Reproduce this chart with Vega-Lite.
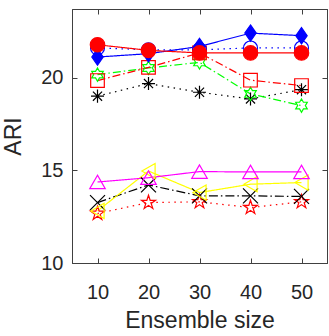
{
  "$schema": "https://vega.github.io/schema/vega-lite/v6.json",
  "width": 255,
  "height": 254,
  "autosize": "none",
  "padding": {"left": 72, "top": 9, "right": 2, "bottom": 73},
  "background": "white",
  "config": {
    "view": {"stroke": "#404040", "strokeWidth": 1},
    "axis": {
      "grid": false,
      "labelFont": "Liberation Sans",
      "labelFontSize": 20,
      "labelColor": "#262626",
      "titleFont": "Liberation Sans",
      "titleFontSize": 24,
      "titleFontWeight": "normal",
      "titleColor": "#262626",
      "domainColor": "#404040",
      "tickColor": "#404040",
      "tickSize": -5
    }
  },
  "data": {
    "values": [
      {"s": "black-asterisk", "x": 10, "y": 19.0},
      {"s": "black-asterisk", "x": 20, "y": 19.68},
      {"s": "black-asterisk", "x": 30, "y": 19.21},
      {"s": "black-asterisk", "x": 40, "y": 18.85},
      {"s": "black-asterisk", "x": 50, "y": 19.35},
      {"s": "green-hexagram", "x": 10, "y": 20.16},
      {"s": "green-hexagram", "x": 20, "y": 20.52},
      {"s": "green-hexagram", "x": 30, "y": 20.82},
      {"s": "green-hexagram", "x": 40, "y": 19.12},
      {"s": "green-hexagram", "x": 50, "y": 18.49},
      {"s": "red-square", "x": 10, "y": 19.84},
      {"s": "red-square", "x": 20, "y": 20.55},
      {"s": "red-square", "x": 30, "y": 21.33},
      {"s": "red-square", "x": 40, "y": 19.86},
      {"s": "red-square", "x": 50, "y": 19.57},
      {"s": "blue-circle", "x": 10, "y": 21.6},
      {"s": "blue-circle", "x": 20, "y": 21.5},
      {"s": "blue-circle", "x": 30, "y": 21.5},
      {"s": "blue-circle", "x": 40, "y": 21.6},
      {"s": "blue-circle", "x": 50, "y": 21.6},
      {"s": "blue-diamond", "x": 10, "y": 21.11},
      {"s": "blue-diamond", "x": 20, "y": 21.29},
      {"s": "blue-diamond", "x": 30, "y": 21.68},
      {"s": "blue-diamond", "x": 40, "y": 22.4},
      {"s": "blue-diamond", "x": 50, "y": 22.26},
      {"s": "red-circle", "x": 10, "y": 21.77},
      {"s": "red-circle", "x": 20, "y": 21.47},
      {"s": "red-circle", "x": 30, "y": 21.33},
      {"s": "red-circle", "x": 40, "y": 21.33},
      {"s": "red-circle", "x": 50, "y": 21.33},
      {"s": "red-pentagram", "x": 10, "y": 12.67},
      {"s": "red-pentagram", "x": 20, "y": 13.26},
      {"s": "red-pentagram", "x": 30, "y": 13.3},
      {"s": "red-pentagram", "x": 40, "y": 12.99},
      {"s": "red-pentagram", "x": 50, "y": 13.3},
      {"s": "black-x", "x": 10, "y": 13.26},
      {"s": "black-x", "x": 20, "y": 14.21},
      {"s": "black-x", "x": 30, "y": 13.62},
      {"s": "black-x", "x": 40, "y": 13.62},
      {"s": "black-x", "x": 50, "y": 13.59},
      {"s": "yellow-triangle", "x": 10, "y": 12.81},
      {"s": "yellow-triangle", "x": 20, "y": 14.96},
      {"s": "yellow-triangle", "x": 30, "y": 13.8},
      {"s": "yellow-triangle", "x": 40, "y": 14.25},
      {"s": "yellow-triangle", "x": 50, "y": 14.34},
      {"s": "magenta-triangle", "x": 10, "y": 14.37},
      {"s": "magenta-triangle", "x": 20, "y": 14.6},
      {"s": "magenta-triangle", "x": 30, "y": 14.93},
      {"s": "magenta-triangle", "x": 40, "y": 14.91},
      {"s": "magenta-triangle", "x": 50, "y": 14.91}
    ]
  },
  "resolve": {"axis": {"x": "independent", "y": "independent"}},
  "layer": [
    {
      "mark": {"type": "line", "strokeWidth": 1.2},
      "encoding": {
        "x": {"field": "x", "type": "quantitative", "scale": {"domain": [5, 55], "nice": false, "zero": false},
              "axis": {"orient": "bottom", "values": [10, 20, 30, 40, 50], "title": "Ensemble size", "labelPadding": 24, "titlePadding": 7, "titleFontSize": 23}},
        "y": {"field": "y", "type": "quantitative", "scale": {"domain": [10, 23.7], "nice": false, "zero": false},
              "axis": {"orient": "left", "values": [10, 15, 20], "title": "ARI", "labelPadding": 14, "titlePadding": 15, "titleFontSize": 23}},
        "detail": {"field": "s", "type": "nominal"},
        "stroke": {"field": "s", "type": "nominal", "legend": null,
          "scale": {
            "domain": ["black-asterisk", "green-hexagram", "red-square", "blue-circle", "blue-diamond", "red-circle", "red-pentagram", "black-x", "yellow-triangle", "magenta-triangle"],
            "range": ["#000000", "#00ff00", "#ff0000", "#0000ff", "#0000ff", "#ff0000", "#ff0000", "#000000", "#ffff00", "#ff00ff"]
          }},
        "strokeDash": {"field": "s", "type": "nominal", "legend": null,
          "scale": {
            "domain": ["black-asterisk", "green-hexagram", "red-square", "blue-circle", "blue-diamond", "red-circle", "red-pentagram", "black-x", "yellow-triangle", "magenta-triangle"],
            "range": [[1.5, 4.5], [8, 3, 1.5, 3], [8, 3, 1.5, 3], [1.5, 4.5], [1, 0], [1, 0], [1.5, 4.5], [9, 3, 1.5, 3], [1, 0], [1, 0]]
          }}
      }
    },
    {
      "mark": {"type": "point", "strokeWidth": 1.2, "opacity": 1},
      "encoding": {
        "x": {"field": "x", "type": "quantitative", "scale": {"domain": [5, 55], "nice": false, "zero": false},
              "axis": {"orient": "top", "values": [10, 20, 30, 40, 50], "labels": false, "title": null}},
        "y": {"field": "y", "type": "quantitative", "scale": {"domain": [10, 23.7], "nice": false, "zero": false},
              "axis": {"orient": "right", "values": [10, 15, 20], "labels": false, "title": null}},
        "stroke": {"field": "s", "type": "nominal", "legend": null},
        "fill": {"field": "s", "type": "nominal", "legend": null,
          "scale": {
            "domain": ["black-asterisk", "green-hexagram", "red-square", "blue-circle", "blue-diamond", "red-circle", "red-pentagram", "black-x", "yellow-triangle", "magenta-triangle"],
            "range": ["transparent", "transparent", "transparent", "transparent", "#0000ff", "#ff0000", "transparent", "transparent", "transparent", "transparent"]
          }},
        "shape": {"field": "s", "type": "nominal", "legend": null,
          "scale": {
            "domain": ["black-asterisk", "green-hexagram", "red-square", "blue-circle", "blue-diamond", "red-circle", "red-pentagram", "black-x", "yellow-triangle", "magenta-triangle"],
            "range": [
              "M-1,0L1,0M0,-1L0,1M-0.7,-0.7L0.7,0.7M-0.7,0.7L0.7,-0.7",
              "M0,-1L0.289,-0.5L0.866,-0.5L0.577,0L0.866,0.5L0.289,0.5L0,1L-0.289,0.5L-0.866,0.5L-0.577,0L-0.866,-0.5L-0.289,-0.5Z",
              "square",
              "circle",
              "M0,-1.15L0.8,0L0,1.15L-0.8,0Z",
              "circle",
              "M0,-1L0.225,-0.309L0.951,-0.309L0.363,0.118L0.588,0.809L0,0.382L-0.588,0.809L-0.363,0.118L-0.951,-0.309L-0.225,-0.309Z",
              "M-1,-1L1,1M-1,1L1,-1",
              "triangle-left",
              "triangle-up"
            ]
          }},
        "size": {"field": "s", "type": "nominal", "legend": null,
          "scale": {
            "domain": ["black-asterisk", "green-hexagram", "red-square", "blue-circle", "blue-diamond", "red-circle", "red-pentagram", "black-x", "yellow-triangle", "magenta-triangle"],
            "range": [170, 240, 125, 230, 230, 240, 210, 120, 240, 230]
          }}
      }
    }
  ]
}
